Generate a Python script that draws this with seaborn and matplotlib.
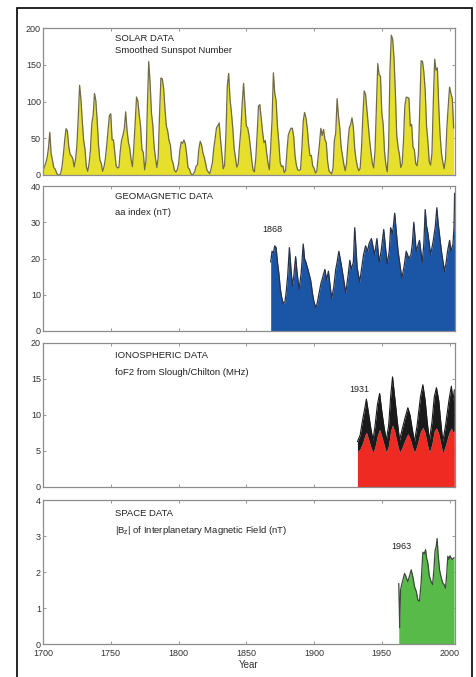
import numpy as np
import pandas as pd
import matplotlib
matplotlib.use("Agg")
import matplotlib.pyplot as plt
from matplotlib.patches import Rectangle
import seaborn as sns

# ---------------- data ----------------
sunspot_years = list(range(1700, 2004))
sunspot_values = [
    5, 11, 16, 23, 36, 58, 29, 20, 10, 8, 3, 0, 0, 2, 11, 27, 47, 63, 60, 39,
    28, 26, 22, 11, 21, 40, 78, 122, 103, 73, 47, 35, 11, 5, 16, 34, 70, 81, 111, 101,
    73, 40, 20, 16, 5, 11, 22, 40, 60, 80.9, 83.4, 47.7, 47.8, 30.7, 12.2, 9.6, 10.2, 32.4, 47.6, 54.0,
    62.9, 85.9, 61.2, 45.1, 36.4, 20.9, 11.4, 37.8, 69.8, 106.1, 100.8, 81.6, 66.5, 34.8, 30.6, 7.0, 19.8, 92.5, 154.4, 125.9,
    84.8, 68.1, 38.5, 22.8, 10.2, 24.1, 82.9, 132.0, 130.9, 118.1, 89.9, 66.6, 60.0, 46.9, 41.0, 21.3, 16.0, 6.4, 4.1, 6.8,
    14.5, 34.0, 45.0, 43.1, 47.5, 42.2, 28.1, 10.1, 8.1, 2.5, 0.0, 1.4, 5.0, 12.2, 13.9, 35.4, 45.8, 41.1, 30.1, 23.9,
    15.6, 6.6, 4.0, 1.8, 8.5, 16.6, 36.3, 49.6, 64.2, 67.0, 70.9, 47.8, 27.5, 8.5, 13.2, 56.9, 121.5, 138.3, 103.2, 85.7,
    64.6, 36.7, 24.2, 10.7, 15.0, 40.1, 61.5, 98.5, 124.7, 96.3, 66.6, 64.5, 54.1, 39.0, 20.6, 6.7, 4.3, 22.7, 54.8, 93.8,
    95.8, 77.2, 59.1, 44.0, 47.0, 30.5, 16.3, 7.3, 37.6, 74.0, 139.0, 111.2, 101.6, 66.2, 44.7, 17.0, 11.3, 12.4, 3.4, 6.0,
    32.3, 54.3, 59.7, 63.7, 63.5, 52.2, 25.4, 13.1, 6.8, 6.3, 7.1, 35.6, 73.0, 85.1, 78.0, 64.0, 41.8, 26.2, 26.7, 12.1,
    9.5, 2.7, 5.0, 24.4, 42.0, 63.5, 53.8, 62.0, 48.5, 43.9, 18.6, 5.7, 3.6, 1.4, 9.6, 47.4, 57.1, 103.9, 80.6, 63.6,
    37.6, 26.1, 14.2, 5.8, 16.7, 44.3, 63.9, 69.0, 77.8, 64.9, 35.7, 21.2, 11.1, 5.7, 8.7, 36.1, 79.7, 114.4, 109.6, 88.8,
    67.8, 47.5, 30.6, 16.3, 9.6, 33.2, 92.6, 151.6, 136.3, 134.7, 83.9, 69.4, 31.5, 13.9, 4.4, 38.0, 141.7, 190.2, 184.8, 159.0,
    112.3, 53.9, 37.6, 27.9, 10.2, 15.1, 47.0, 93.8, 105.9, 105.5, 104.5, 66.6, 68.9, 38.0, 34.5, 15.5, 12.6, 27.5, 92.5, 155.4,
    154.6, 140.4, 115.9, 66.6, 45.9, 17.9, 13.4, 29.4, 100.2, 157.6, 142.6, 145.7, 94.3, 54.6, 29.9, 17.5, 8.6, 21.5, 64.3, 93.3,
    119.6, 111.0, 104.0, 63.7,
]

aa_years = [1868, 1869, 1870, 1871, 1872, 1873, 1874, 1875, 1876, 1877.4, 1878.5, 1879.5,
            1880.5, 1881.8, 1883, 1884, 1885, 1886.4, 1887.5, 1889, 1890.5, 1892, 1893, 1894,
            1895.5, 1897.5, 1899, 1900, 1901.4, 1902.5, 1904, 1905, 1906.5, 1908, 1909.3, 1910.6,
            1912, 1913, 1914.5, 1916, 1917, 1918.3, 1920, 1921.5, 1923.4, 1925, 1926.4, 1927.5,
            1929, 1930, 1931.8, 1933.7, 1935, 1936.5, 1938, 1939.5, 1940.5, 1942.3, 1944.7, 1946.4,
            1948, 1949.5, 1951.4, 1953, 1954, 1955.5, 1956.5, 1958, 1959.5, 1961, 1962, 1963.5,
            1964.8, 1966.5, 1968, 1970, 1971.5, 1972.5, 1973.6, 1975.4, 1977.8, 1979.8, 1981, 1982,
            1983, 1984, 1986, 1988, 1989.5, 1990.6, 1991.5, 1992.6, 1994, 1996.2, 1997.5, 1998.5,
            2000, 2001, 2002.5, 2003.3, 2003.7]
aa_values = [19, 22, 21.5, 23.5, 23, 19, 16, 12, 9.5, 7.5, 8, 11,
             15, 23, 17, 12.5, 15, 20.5, 16, 11.5, 16, 24, 20, 19,
             17, 14, 10, 8, 6.3, 8, 11, 13, 15, 17, 14, 16.5,
             12, 9, 12, 17, 19, 22, 18.5, 15, 10.5, 15, 19.5, 17,
             19, 28.5, 17.5, 13.5, 17, 21, 23.5, 22, 24, 25.5, 21, 25.5,
             19, 22, 28, 22, 18.5, 22, 28.5, 27, 32.5, 26, 22, 18,
             14.5, 18, 22, 20, 21, 24, 30, 22, 25, 19, 24, 33.5,
             29, 27, 21, 25, 29, 34, 30, 26.5, 22, 16.5, 19, 22,
             25, 22, 24, 29, 38]

fof2_years = [1932, 1934, 1936, 1937.5, 1938.6, 1940, 1942, 1943.5, 1945, 1946.8, 1948.4,
              1950, 1951.5, 1953.3, 1955, 1956.5, 1957.9, 1959.5, 1961.5, 1963.1, 1965, 1967,
              1969.2, 1970.8, 1972.5, 1974.1, 1976, 1978.5, 1980.3, 1982, 1983.5, 1985.1, 1987,
              1988.7, 1990.3, 1992, 1993.5, 1995, 1997, 1999.5, 2001.3, 2002.5, 2003.5]
fof2_high = [6.3, 7.2, 9.5, 11, 12.2, 10.5, 8, 6.5, 8.5, 11.5, 13,
             10.5, 8.5, 6.5, 8.5, 12.5, 15.3, 12.5, 9, 6.5, 8, 9.5,
             11, 10, 8, 6.3, 8.5, 12.5, 14.2, 12, 9, 6.5, 9,
             12.5, 13.8, 12, 9, 6.3, 8.5, 12, 14, 12, 13.5]
fof2_low = [4.9, 5.3, 6.2, 7.2, 7.6, 6.8, 5.5, 4.8, 5.6, 7.2, 8.0,
            7.0, 6.0, 4.8, 5.8, 7.8, 8.6, 7.7, 6.0, 4.8, 5.5, 6.5,
            7.4, 6.8, 5.6, 4.8, 5.8, 7.7, 8.3, 7.5, 6.0, 4.8, 6.0,
            7.8, 8.2, 7.4, 6.0, 4.7, 5.8, 7.5, 8.2, 7.6, 7.8]

imf_years = [1962.5, 1963.2, 1963.8, 1965, 1966.8, 1968, 1969.2, 1970.5, 1971.7, 1973,
             1974.1, 1975.5, 1976.6, 1977.8, 1979, 1980.3, 1981.3, 1982.3, 1983, 1984,
             1985, 1986.4, 1987.5, 1988.5, 1989.3, 1990.1, 1990.8, 1991.5, 1992.6, 1993.8,
             1995, 1996, 1997, 1998, 1998.7, 1999.5, 2000.3, 2001, 2002, 2003.3]
imf_values = [1.68, 0.45, 1.5, 1.7, 1.96, 1.85, 1.73, 1.9, 2.06, 1.85,
              1.6, 1.45, 1.22, 1.19, 1.7, 2.55, 2.5, 2.62, 2.4, 2.24,
              1.9, 1.73, 1.65, 2.1, 2.6, 2.7, 2.93, 2.5, 2.06, 1.85,
              1.69, 1.65, 1.55, 2.0, 2.44, 2.35, 2.45, 2.4, 2.35, 2.4]

panel_titles = ["SOLAR DATA", "GEOMAGNETIC DATA", "IONOSPHERIC DATA", "SPACE DATA"]
panel_subtitles = ["Smoothed Sunspot Number", "aa index (nT)",
                   "foF2 from Slough/Chilton (MHz)",
                   "|B$_z$| of Interplanetary Magnetic Field (nT)"]
start_labels = ["", "1868", "1931", "1963"]
y_limits = [200, 40, 20, 4]
y_steps = [50, 10, 5, 1]
x_ticks = [1700, 1750, 1800, 1850, 1900, 1950, 2000]

# ---------------- style ----------------
sns.set_style("ticks")
plt.rcParams['font.family'] = ['Liberation Sans', 'DejaVu Sans']
plt.rcParams['mathtext.default'] = 'regular'

W, H = 476, 677
fig = plt.figure(figsize=(W / 100, H / 100), dpi=100)

left_px, right_px = 43, 455
panels_px = [(28, 175), (186, 331), (343, 487), (500, 644)]
axes = []
for top, bot in panels_px:
    ax = fig.add_axes([left_px / W, 1 - bot / H, (right_px - left_px) / W, (bot - top) / H])
    axes.append(ax)

# panel 1: sunspots
df_ss = pd.DataFrame({"year": sunspot_years, "value": sunspot_values})
ax = axes[0]
ax.fill_between(df_ss["year"], 0, df_ss["value"], color="#e6df2c", lw=0)
sns.lineplot(data=df_ss, x="year", y="value", ax=ax, color="#6e6a4a", linewidth=0.9)

# panel 2: aa index
df_aa = pd.DataFrame({"year": aa_years, "value": aa_values})
ax = axes[1]
ax.fill_between(df_aa["year"], 0, df_aa["value"], color="#1a55a6", lw=0)
sns.lineplot(data=df_aa, x="year", y="value", ax=ax, color="#2a3247", linewidth=0.9)

# panel 3: foF2
df_f = pd.DataFrame({"year": fof2_years, "low": fof2_low, "high": fof2_high})
ax = axes[2]
ax.fill_between(df_f["year"], 0, df_f["low"], color="#ee2a22", lw=0)
ax.fill_between(df_f["year"], df_f["low"], df_f["high"], color="#1a1a1a", lw=0)
sns.lineplot(data=df_f, x="year", y="high", ax=ax, color="#1a1a1a", linewidth=0.8)

# panel 4: IMF
df_imf = pd.DataFrame({"year": imf_years, "value": imf_values})
ax = axes[3]
ax.fill_between(df_imf["year"], 0, df_imf["value"], color="#58ba48", lw=0)
sns.lineplot(data=df_imf, x="year", y="value", ax=ax, color="#3b4a3b", linewidth=0.9)

title_y = [0.93, 0.926, 0.91, 0.903]
sub_y = [0.845, 0.816, 0.794, 0.787]
label_pos = [None, (1869.5, 0.70), (1933.5, 0.675), (1964.5, 0.678)]
for i, ax in enumerate(axes):
    ax.set_xlim(1700, 2004)
    ax.set_ylim(0, y_limits[i])
    ax.set_yticks(np.arange(0, y_limits[i] + 0.001, y_steps[i]))
    ax.set_xticks(x_ticks)
    ax.set_xlabel("")
    ax.set_ylabel("")
    ax.tick_params(direction="in", length=2.5, width=0.6, colors="#888888",
                   labelcolor="#333333", labelsize=6.5, pad=1.5,
                   top=True, right=True)
    ax.tick_params(axis="x", pad=3.5)
    for s in ax.spines.values():
        s.set_color("#8c8c8c")
        s.set_linewidth(0.9)
    if i < 3:
        ax.set_xticklabels([])
    ax.text(0.175, title_y[i], panel_titles[i], transform=ax.transAxes, fontsize=6.8,
            color="#222222", ha="left", va="center")
    ax.text(0.175, sub_y[i], panel_subtitles[i], transform=ax.transAxes, fontsize=6.8,
            color="#222222", ha="left", va="center")
    if start_labels[i]:
        xp, yp = label_pos[i]
        ax.text(xp, yp * y_limits[i], start_labels[i], fontsize=6.5, color="#222222",
                ha="center", va="center")

axes[3].set_xlabel("Year", fontsize=7, color="#333333", labelpad=1.5)

fig.add_artist(Rectangle((17 / W, -0.02), (472 - 17) / W, 1 - 8 / H + 0.02,
                         transform=fig.transFigure, fill=False, lw=1.2,
                         edgecolor="black", clip_on=False))

fig.savefig("out.png", dpi=100)
